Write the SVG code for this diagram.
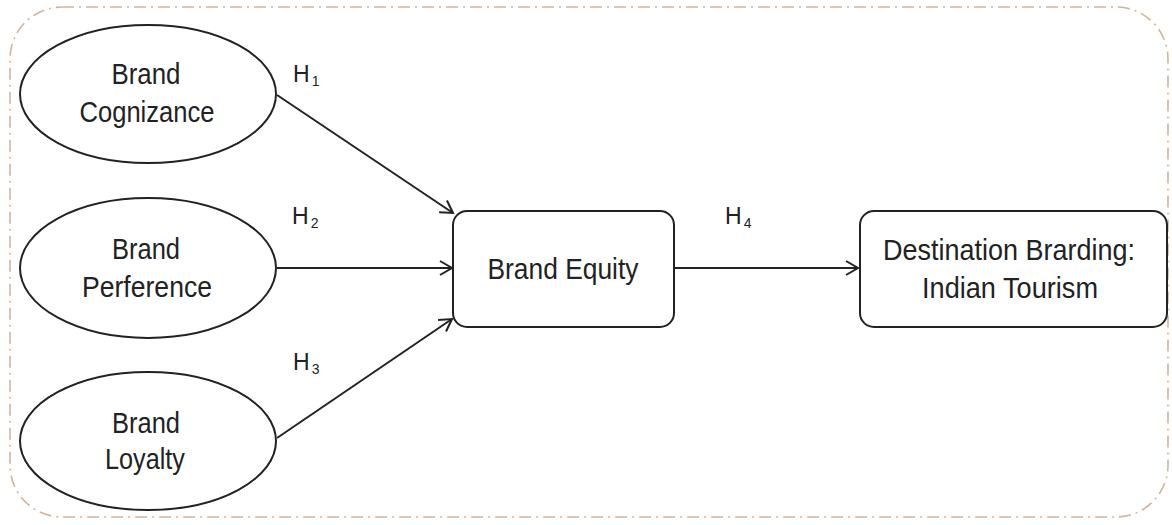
<svg xmlns="http://www.w3.org/2000/svg" width="1172" height="525" viewBox="0 0 1172 525">
<style>
.node{fill:#ffffff;stroke:#222222;stroke-width:2}
.t{font-family:"Liberation Sans",Arial,sans-serif;font-size:29px;fill:#222222;text-anchor:middle}
.h{font-family:"Liberation Sans",Arial,sans-serif;font-size:23px;fill:#222222}
.s{font-size:14px}
.edge{stroke:#222222;stroke-width:2;fill:none;marker-end:url(#arr)}
</style>
<defs>
<marker id="arr" markerUnits="userSpaceOnUse" markerWidth="16" markerHeight="16" refX="14" refY="8" orient="auto">
<path d="M2,1 L14,8 L2,15" fill="none" stroke="#222222" stroke-width="2"/>
</marker>
</defs>
<rect width="1172" height="525" fill="#ffffff"/>
<rect id="frame" x="10" y="7" width="1158" height="510" rx="52" ry="52" fill="none" stroke="#d4b49a" stroke-width="1.6" stroke-dasharray="12,5,2,5"/>
<g id="cognizance">
<ellipse class="node" cx="148" cy="94" rx="128" ry="69"/>
<text class="t" x="146" y="84" textLength="69" lengthAdjust="spacingAndGlyphs">Brand</text>
<text class="t" x="147" y="122" textLength="135" lengthAdjust="spacingAndGlyphs">Cognizance</text>
</g>
<g id="perference">
<ellipse class="node" cx="148" cy="268" rx="128" ry="70"/>
<text class="t" x="146" y="259" textLength="68" lengthAdjust="spacingAndGlyphs">Brand</text>
<text class="t" x="147" y="297" textLength="130" lengthAdjust="spacingAndGlyphs">Perference</text>
</g>
<g id="loyalty">
<ellipse class="node" cx="148" cy="441" rx="128" ry="69"/>
<text class="t" x="146" y="433" textLength="68" lengthAdjust="spacingAndGlyphs">Brand</text>
<text class="t" x="145" y="469" textLength="80" lengthAdjust="spacingAndGlyphs">Loyalty</text>
</g>
<g id="equity">
<rect class="node" x="453" y="211" width="221" height="116" rx="14" ry="14"/>
<text class="t" x="563" y="279" textLength="151" lengthAdjust="spacingAndGlyphs">Brand Equity</text>
</g>
<g id="destination">
<rect class="node" x="860" y="211" width="307" height="116" rx="14" ry="14"/>
<text class="t" x="1009" y="260" textLength="252" lengthAdjust="spacingAndGlyphs">Destination Brarding:</text>
<text class="t" x="1010" y="298" textLength="176" lengthAdjust="spacingAndGlyphs">Indian Tourism</text>
</g>
<g id="connectors">
<line class="edge" x1="277" y1="95" x2="453" y2="213"/>
<line class="edge" x1="277" y1="268" x2="452" y2="268"/>
<line class="edge" x1="277" y1="438" x2="452" y2="319"/>
<line class="edge" x1="675" y1="268" x2="858" y2="268"/>
<text class="h" x="293" y="82">H<tspan class="s" dx="2" dy="4">1</tspan></text>
<text class="h" x="292" y="224">H<tspan class="s" dx="2" dy="4">2</tspan></text>
<text class="h" x="293" y="370">H<tspan class="s" dx="2" dy="4">3</tspan></text>
<text class="h" x="725" y="224">H<tspan class="s" dx="2" dy="4">4</tspan></text>
</g>
</svg>
